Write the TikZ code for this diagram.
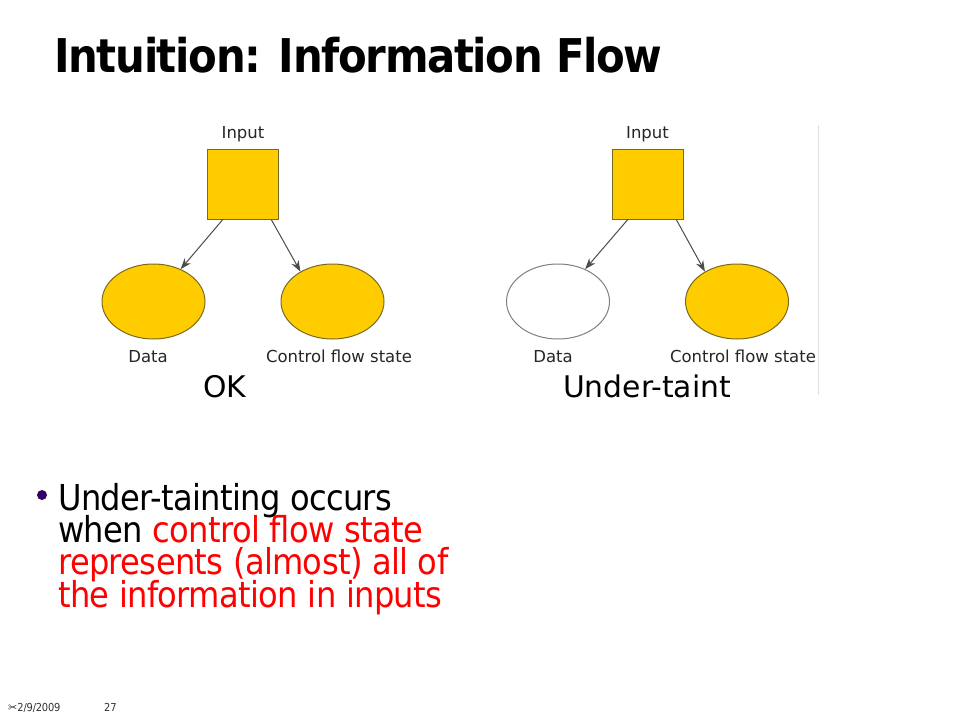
\documentclass[tikz,border=0pt]{standalone}
\usepackage{fontspec}
\setmainfont{DejaVu Sans}[FakeStretch=0.9, LetterSpace=-1.8]
\newfontfamily\titlefont{DejaVu Sans}[FakeStretch=0.9, LetterSpace=-2.9]
\newfontfamily\figfont{DejaVu Sans}
\usetikzlibrary{shapes.geometric,arrows.meta}
\definecolor{gold}{HTML}{FFCC00}
\definecolor{goldline}{HTML}{7A6A20}
\definecolor{dotpurple}{HTML}{330066}
\setlength{\lineskiplimit}{-30pt}
\tikzset{
  inbox/.style={draw=goldline, fill=gold, minimum width=71pt, minimum height=70pt, inner sep=0pt, line width=1pt},
  fullnode/.style={ellipse, draw=goldline, fill=gold, minimum width=103pt, minimum height=75pt, inner sep=0pt, line width=1pt},
  hollownode/.style={ellipse, draw=black!50, fill=white, minimum width=103pt, minimum height=75pt, inner sep=0pt, line width=1pt},
  lbl/.style={anchor=base, inner sep=0pt, text=black!85, font=\figfont\fontsize{16.5}{20}\selectfont},
  verdict/.style={anchor=base, inner sep=0pt, font=\figfont\fontsize{29.8}{34}\selectfont},
  flow/.style={-{Stealth[length=11pt,width=8pt]}, draw=black!70, line width=1pt},
  foot/.style={anchor=base west, inner sep=0pt, text=black!80, font=\fontsize{11}{12}\selectfont}
}
\begin{document}
\begin{tikzpicture}[x=1pt, y=-1pt]
\useasboundingbox[fill=white] (0,0) rectangle (960,720);

% title
\node[anchor=base west, inner sep=0pt, font=\titlefont\bfseries\fontsize{46.5}{56}\selectfont] (T) at (54,72) {Intuition: Information Flow};

% nodes, left picture
\node[lbl] (inA) at (243,138) {Input};
\node[inbox] (A) at (242.5,184) {};
\node[fullnode] (B) at (153.5,301.5) {};
\node[fullnode] (C) at (332.5,301.5) {};
\node[lbl] (dB) at (148,362) {Data};
\node[lbl] (cC) at (339,362) {Control flow state};
\node[verdict] (ok) at (225,397) {OK};

% nodes, right picture
\node[lbl] (inD) at (647.5,138) {Input};
\node[inbox] (D) at (647.5,184) {};
\node[hollownode] (E) at (558,301.5) {};
\node[fullnode] (F) at (737,301.5) {};
\node[lbl] (dE) at (553,362) {Data};
\node[lbl] (cF) at (743,362) {Control flow state};
\node[verdict] (ut) at (647,397) {Under-taint};
\draw[black!12, line width=1pt] (818,125) -- (818,395);

% arrows
\draw [flow] (A.241)--(B.50);
\draw [flow] (A.309)--(C.137);
\draw [flow] (D.241)--(E.50);
\draw [flow] (D.309)--(F.137);

% bullet (base = last line)
\node[circle, fill=dotpurple, minimum size=10pt, inner sep=0pt] (dot) at (42,495) {};
\node[anchor=base west, inner sep=0pt, align=left, font=\fontsize{35.7}{32.3}\selectfont] (txt) at (58,607)
  {Under-tainting occurs\\ when \textcolor{red}{control flow state}\\ \textcolor{red}{represents (almost) all of}\\ \textcolor{red}{the information in inputs}};

% footer
\node[foot] (date) at (8,711) {{\figfont ✂}2/9/2009};
\node[foot] (page) at (104,711) {27};
\end{tikzpicture}
\end{document}
